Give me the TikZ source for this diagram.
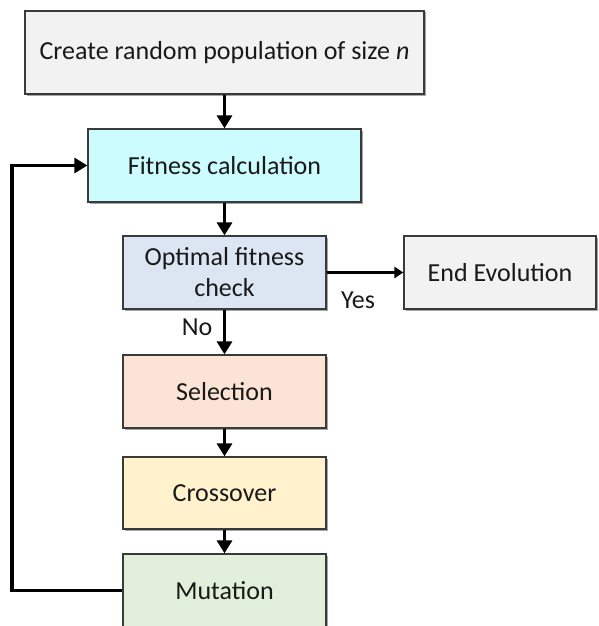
\documentclass[tikz,border=0pt]{standalone}
\usepackage{fontspec}
\setmainfont{Carlito}
\usetikzlibrary{arrows.meta,shadows}
\definecolor{boxgray}{HTML}{F2F2F2}
\definecolor{boxcyan}{HTML}{CCFCFD}
\definecolor{boxblue}{HTML}{DCE6F2}
\definecolor{boxpeach}{HTML}{FBE4D5}
\definecolor{boxyellow}{HTML}{FFF2CC}
\definecolor{boxgreen}{HTML}{E2EFDA}
\definecolor{edgegray}{HTML}{3A3A3A}
\tikzset{
  stepbox/.style={draw=edgegray, line width=1.3pt, align=center, inner sep=0pt,
    font=\fontsize{26}{31}\selectfont, text=black!90,
    drop shadow={shadow xshift=1.5pt, shadow yshift=-1.5pt, opacity=0.35, fill=black}},
  flow/.style={line width=3.8pt, -{Triangle[width=15pt,length=13pt]}},
  thinflow/.style={line width=2.4pt, -{Triangle[width=11pt,length=9pt]}},
  lbl/.style={font=\fontsize{26}{31}\selectfont, text=black!90, inner sep=0pt}
}
\begin{document}
\begin{tikzpicture}[x=1pt,y=-1pt]
\useasboundingbox (0,0) rectangle (598,626);
\fill[white] (0,0) rectangle (598,626);

\node[stepbox, fill=boxgray, minimum width=399pt, minimum height=83pt] (init) at (224.5,52.5) {Create random population of size \textit{n}};
\node[stepbox, fill=boxcyan, minimum width=273pt, minimum height=73pt] (fit) at (224.5,165.5) {Fitness calculation};
\node[stepbox, fill=boxblue, minimum width=203pt, minimum height=73pt] (opt) at (224.5,272.5) {Optimal fitness\\check};
\node[stepbox, fill=boxgray, minimum width=192pt, minimum height=73pt] (end) at (500,272.5) {End Evolution};
\node[stepbox, fill=boxpeach, minimum width=203pt, minimum height=73pt] (sel) at (224.5,391.5) {Selection};
\node[stepbox, fill=boxyellow, minimum width=203pt, minimum height=72pt] (cross) at (224.5,493) {Crossover};
\node[stepbox, fill=boxgreen, minimum width=203pt, minimum height=73pt] (mut) at (224.5,590.5) {Mutation};

\coordinate (loopbottom) at (12,590.5);
\coordinate (looptop) at (12,165.5);

\draw[flow] (init) -- (fit);
\draw[flow] (fit) -- (opt);
\draw[flow] (opt) -- (sel);
\node[lbl] (no) at (197,327) {No};
\draw[thinflow] (opt) -- (end);
\node[lbl] (yes) at (358,300) {Yes};
\draw[flow] (sel) -- (cross);
\draw[flow] (cross) -- (mut);
\draw[flow] (mut.west) -- (loopbottom) -- (looptop) -- (fit.west);
\end{tikzpicture}
\end{document}
